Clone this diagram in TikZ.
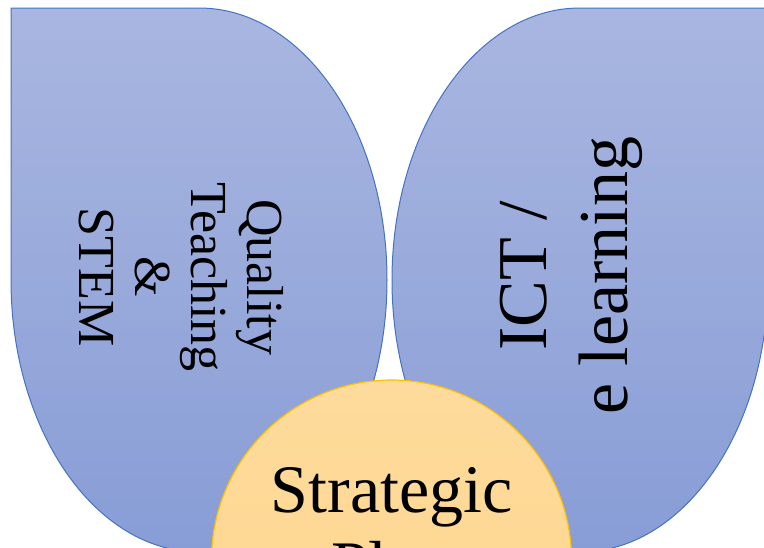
\documentclass[tikz,border=0pt]{standalone}
\usepackage{fontspec}
\setmainfont{Liberation Serif}
\definecolor{petaltop}{HTML}{A9B6E0}
\definecolor{petalbot}{HTML}{889DD6}
\definecolor{petalline}{HTML}{4472C4}
\definecolor{suntop}{HTML}{FEDB9C}
\definecolor{sunbot}{HTML}{FDD48C}
\definecolor{sunline}{HTML}{FFC000}
\begin{document}
\begin{tikzpicture}[x=1pt,y=1pt,
  petal/.style={draw=petalline,line width=1pt,top color=petaltop,bottom color=petalbot},
  sun/.style={draw=sunline,line width=1.2pt,top color=suntop,bottom color=sunbot},
  petaltext/.style={align=center,text=black,inner sep=0pt}]
\useasboundingbox (0,0) rectangle (764,-547);
\clip (0,0) rectangle (764,-547);
% left petal (teardrop, square corner top-left)
\draw[petal] (199,-8) arc[start angle=90,end angle=-180,x radius=188,y radius=272]
  -- (11,-8) -- cycle;
% right petal (teardrop, square corner top-right)
\draw[petal] (580,-8) arc[start angle=90,end angle=360,x radius=188,y radius=272]
  -- (768,-8) -- cycle;
% centre circle
\draw[sun] (391.5,-560) circle[radius=180];
\node[petaltext,rotate=-90,font=\fontsize{52}{56}\selectfont] (qt) at (181,-277)
  {Quality\\Teaching\\\&\\STEM};
\node[petaltext,rotate=90,font=\fontsize{70}{81}\selectfont] (ict) at (571.5,-276)
  {ICT /\\e learning};
\node[petaltext,anchor=base,font=\fontsize{68}{76}\selectfont] (sp) at (391.5,-588)
  {Strategic\\Plan};
\end{tikzpicture}
\end{document}
